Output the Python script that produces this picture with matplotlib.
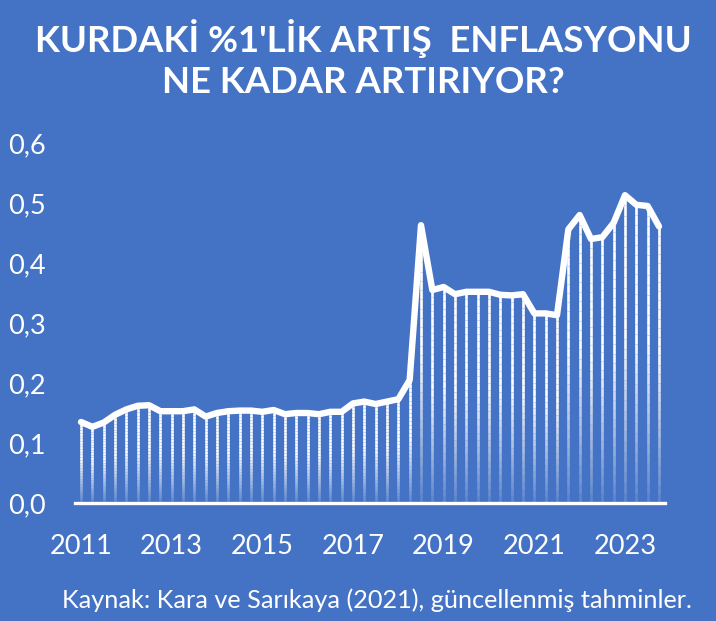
import matplotlib as mpl
mpl.use('Agg')
import matplotlib.pyplot as plt
import numpy as np
from matplotlib.collections import LineCollection
from matplotlib.ticker import FuncFormatter

plt.rcParams['font.family'] = ['Lato', 'DejaVu Sans']

BG = '#4472C4'

# quarterly estimates, 2011Q1 .. 2023Q4
years = list(range(2011, 2024))
values = [
    0.135, 0.127, 0.134, 0.147, 0.156, 0.162, 0.163, 0.153,
    0.153, 0.153, 0.156, 0.144, 0.150, 0.153, 0.154, 0.154,
    0.152, 0.155, 0.148, 0.150, 0.150, 0.148, 0.152, 0.152,
    0.166, 0.169, 0.165, 0.169, 0.173, 0.205, 0.463, 0.355,
    0.360, 0.348, 0.352, 0.352, 0.352, 0.347, 0.346, 0.348,
    0.316, 0.316, 0.313, 0.456, 0.480, 0.440, 0.443, 0.467,
    0.513, 0.497, 0.495, 0.461,
]
tick_years = [2011, 2013, 2015, 2017, 2019, 2021, 2023]
title = "KURDAKİ %1'LİK ARTIŞ  ENFLASYONU\nNE KADAR ARTIRIYOR?"
source = "Kaynak: Kara ve Sarıkaya (2021), güncellenmiş tahminler."

W, H = 716, 621
fig = plt.figure(figsize=(W / 100, H / 100), dpi=100)
fig.patch.set_facecolor(BG)
ax = fig.add_axes([75 / W, 118 / H, 590 / W, 360 / H])
ax.set_facecolor(BG)

x = np.arange(len(values))

# drop lines fading towards the bottom
segs, cols = [], []
n = 30
for xi, v in zip(x, values):
    ys = np.linspace(0, v, n + 1)
    for k in range(n):
        f = (k + 0.5) / n
        a = min(1.0, 0.12 + f * 1.6)
        segs.append([(xi, ys[k]), (xi, ys[k + 1])])
        cols.append((1, 1, 1, a))
ax.add_collection(LineCollection(segs, colors=cols, linewidths=1.9,
                                 capstyle='butt', zorder=2))

ax.plot(x, values, color='white', lw=4.6, solid_joinstyle='round',
        solid_capstyle='round', zorder=3)

ax.set_xlim(-0.53, len(values) - 1 + 0.53)
ax.set_ylim(0, 0.6)

ax.set_xticks([(y - years[0]) * 4 for y in tick_years])
ax.set_xticklabels([str(y) for y in tick_years])
ax.set_yticks(np.arange(0, 0.61, 0.1))
ax.yaxis.set_major_formatter(FuncFormatter(lambda v, p: f"{v:.1f}".replace('.', ',')))

ax.tick_params(axis='both', length=0, labelcolor='white', labelsize=19.5)
ax.tick_params(axis='x', pad=22)
ax.tick_params(axis='y', pad=21)

for s in ['top', 'right', 'left']:
    ax.spines[s].set_visible(False)
ax.spines['bottom'].set_color('white')
ax.spines['bottom'].set_linewidth(2.4)
ax.spines['bottom'].set_zorder(4)

fig.text(0.508, 1 - 59 / H, title, ha='center', va='center', color='white',
         fontsize=26.3, fontweight='bold', linespacing=1.33)
fig.text(0.527, 1 - 600 / H, source, ha='center', va='center', color='white',
         fontsize=18.2)

fig.savefig('out.png', dpi=100, facecolor=BG)
